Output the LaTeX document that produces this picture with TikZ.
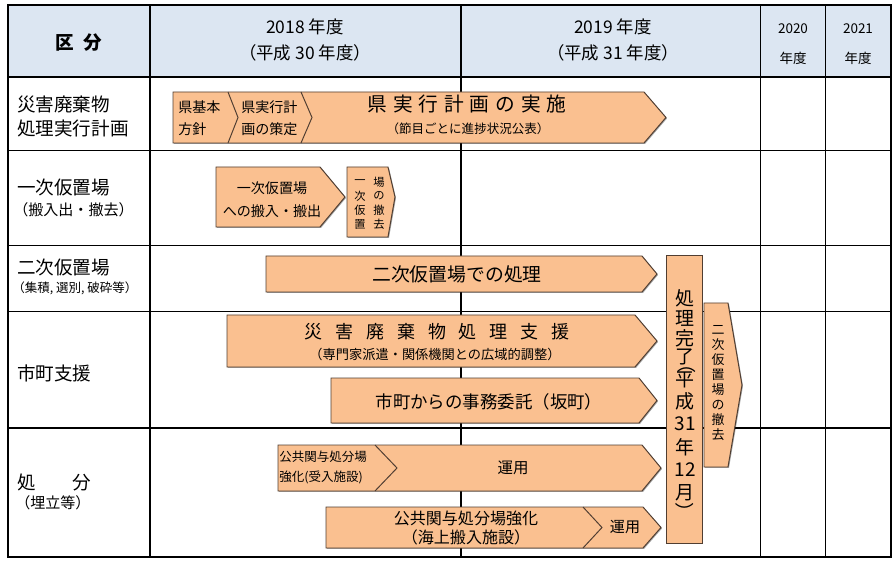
\documentclass[tikz,border=0pt]{standalone}
\usepackage{fontspec}
\newfontfamily\jp{Noto Sans CJK JP}
\usepackage{tikz}
\usetikzlibrary{shadows}
\definecolor{barfill}{RGB}{250,192,144}
\definecolor{barline}{RGB}{80,62,50}
\definecolor{hdrblue}{RGB}{220,230,242}
\newcommand{\fsz}[2]{\fontsize{#1pt}{#2pt}\selectfont}
\newcommand{\wgap}{\hspace{.72em}}
\newcommand{\ngap}{\hspace{.3em}}
\tikzset{
  grid/.style={line width=0.9pt, color=black},
  bar/.style={fill=barfill, draw=barline, line width=0.7pt,
    drop shadow={shadow xshift=0.7pt, shadow yshift=-0.7pt, fill=black, opacity=0.35}},
  divider/.style={draw=barline, line width=0.7pt},
  txt/.style={inner sep=0pt, align=center, font=\jp},
  rowlbl/.style={inner sep=0pt, anchor=west, align=left, font=\jp\fsz{13.2}{16.4}}
}

\begin{document}
\begin{tikzpicture}[x=0.025cm, y=-0.025cm]
  \useasboundingbox (0,0) rectangle (896,564);

  % Table frame and header band
  \fill[hdrblue] (8,5) rectangle (891,77);
  \draw[grid] (8,5) rectangle (891,557);
  \foreach \x in {150,461,760.7,825.7}
    \draw[grid] (\x,5) -- (\x,557);
  \foreach \y in {77,150.3,245.3,311.3,428}
    \draw[grid] (8,\y) -- (891,\y);

  % Header texts
  \node[txt, font=\jp\bfseries\fsz{13.2}{16}] (kubun) at (79,43) {区\hspace{.5em}分};
  \node[txt, font=\jp\fsz{12.4}{18.5}] (fy2018) at (305,40) {2018 年度\\（平成 30 年度）};
  \node[txt, font=\jp\fsz{12.4}{18.5}] (fy2019) at (613,40) {2019 年度\\（平成 31 年度）};
  \node[txt, font=\jp\fsz{9.6}{21.3}] (fy2020) at (793,44) {2020\\年度};
  \node[txt, font=\jp\fsz{9.6}{21.3}] (fy2021) at (858,44) {2021\\年度};

  % Row labels
  \node[rowlbl] (plan) at (17,116.5) {災害廃棄物\\処理実行計画};
  \node[rowlbl] (first) at (17,188) {一次仮置場};
  \node[rowlbl, font=\jp\fsz{10.7}{12}] (firstsub) at (13,210) {（搬入出・撤去）};
  \node[rowlbl] (second) at (17,268) {二次仮置場};
  \node[rowlbl, font=\jp\fsz{8.9}{10}] (secondsub) at (12,288) {（集積, 選別, 破砕等）};
  \node[rowlbl] (support) at (17,373) {市町支援};
  \node[rowlbl] (disposal) at (17,483) {処　　分};
  \node[rowlbl, font=\jp\fsz{10.7}{12}] (disposalsub) at (15,503) {（埋立等）};

  % Row 1 - execution plan
  \draw[bar] (173,92) -- (644,92) -- (666,117.5) -- (644,143) -- (173,143) -- cycle;
  \draw[divider] (228,92) -- (238,117.5) -- (228,143);
  \draw[divider] (301,92) -- (312,117.5) -- (301,143);
  \node[txt, anchor=west, align=left, font=\jp\fsz{10}{15.6}] (basic) at (178,118) {県基本\\方針};
  \node[txt, anchor=west, align=left, font=\jp\fsz{10}{15.6}] (draft) at (241,118) {県実行計\\画の策定};
  \node[txt, font=\jp\fsz{14}{16}] (exec) at (467,104) {県\ngap 実\ngap 行\ngap 計\ngap 画\ngap の\ngap 実\ngap 施};
  \node[txt, font=\jp\fsz{8.9}{10}] (execsub) at (468,129) {（節目ごとに進捗状況公表）};

  % Row 2 - primary storage sites
  \draw[bar] (216,167) -- (320,167) -- (345,197) -- (320,227) -- (216,227) -- cycle;
  \draw[bar] (347,167) -- (388,167) -- (395,197) -- (388,237) -- (347,237) -- cycle;
  \node[txt, font=\jp\fsz{10}{16.3}] (carry) at (272,200) {一次仮置場\\への搬入・搬出};
  \foreach \ch [count=\i from 0] in {一,次,仮,置}
    \node[txt, font=\jp\fsz{8}{9}] (clearA-\i) at (360,182+14*\i) {\ch};
  \foreach \ch [count=\i from 0] in {場,の,撤,去}
    \node[txt, font=\jp\fsz{8}{9}] (clearB-\i) at (379,182+14*\i) {\ch};

  % Row 3 - secondary storage site
  \draw[bar] (266,256) -- (642,256) -- (657,274) -- (642,292) -- (266,292) -- cycle;
  \node[txt, font=\jp\fsz{13.4}{15}] (treat) at (457,274) {二次仮置場での処理};

  % Row 4 - support for towns
  \draw[bar] (227,315) -- (635,315) -- (657,341) -- (635,367) -- (227,367) -- cycle;
  \draw[bar] (331,378) -- (639,378) -- (657,400.5) -- (639,423) -- (331,423) -- cycle;
  \node[txt, font=\jp\fsz{12.8}{14}] (aid) at (437,332) {災\wgap 害\wgap 廃\wgap 棄\wgap 物\wgap 処\wgap 理\wgap 支\wgap 援};
  \node[txt, font=\jp\fsz{9.4}{11}] (aidsub) at (435,354) {（専門家派遣・関係機関との広域的調整）};
  \node[txt, font=\jp\fsz{12.4}{14}] (entrust) at (489,402) {市町からの事務委託（坂町）};

  % Row 5 - disposal
  \draw[bar] (278,445) -- (642,445) -- (661,468) -- (642,491) -- (278,491) -- cycle;
  \draw[divider] (375,445) -- (397,468) -- (375,491);
  \node[txt, anchor=west, align=left, font=\jp\fsz{8.9}{14.2}] (landfill) at (279,467) {公共関与処分場\\強化(受入施設)};
  \node[txt, font=\jp\fsz{11}{12}] (useA) at (513,468) {運用};
  \draw[bar] (326,507) -- (643,507) -- (661,527.5) -- (643,548) -- (326,548) -- cycle;
  \draw[divider] (583,507) -- (602,527.5) -- (583,548);
  \node[txt, font=\jp\fsz{11.4}{13.5}] (seaport) at (466,528) {公共関与処分場強化\\（海上搬入施設）};
  \node[txt, font=\jp\fsz{10.7}{12}] (useB) at (625,527) {運用};

  % Completion bar, written top to bottom
  \draw[bar] (666,255) rectangle (702,543);
  \foreach \ch/\yy [count=\i] in {処/298, 理/318, 完/338, 了/357, 平/380, 成/401, 31/424, 年/447, 12/470, 月/493}
    \node[txt, font=\jp\fsz{13.5}{15}] (done-\i) at (685,\yy) {\ch};
  \node[txt, font=\jp\fsz{13.5}{15}, rotate=-90] (doneopen) at (687,364) {（};
  \node[txt, font=\jp\fsz{13.5}{15}, rotate=-90] (doneclose) at (685,512) {）};

  % Removal of secondary site
  \draw[bar] (704,303) -- (728,303) -- (742,385) -- (728,467) -- (704,467) -- cycle;
  \foreach \ch [count=\i from 0] in {二,次,仮,置,場,の,撤,去}
    \node[txt, font=\jp\fsz{9.2}{10}] (removal-\i) at (718,330+15*\i) {\ch};
\end{tikzpicture}
\end{document}
